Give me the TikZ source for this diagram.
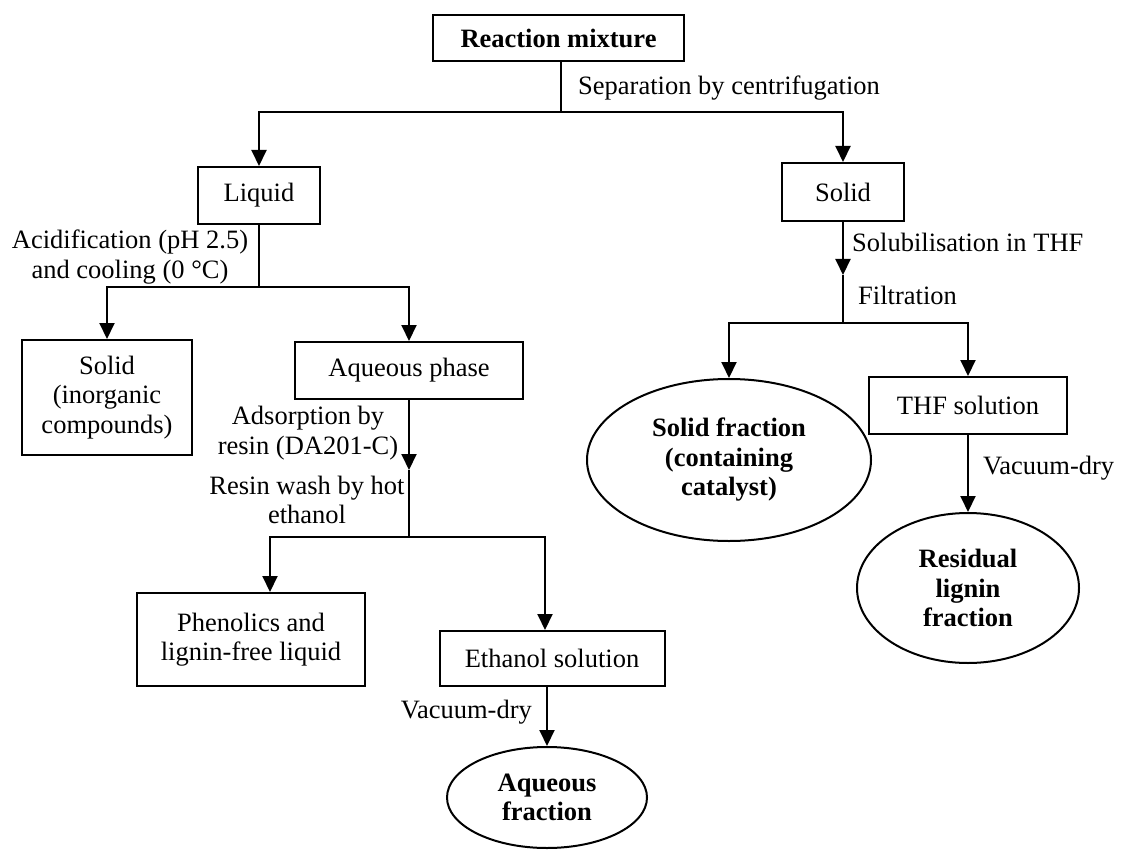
\documentclass[tikz,border=0pt]{standalone}
\usepackage{fontspec}
\setmainfont{Liberation Serif}
\usetikzlibrary{shapes.geometric,arrows.meta}
\begin{document}
\begin{tikzpicture}[x=1pt,y=-1pt,
  every node/.style={font=\fontsize{26.5}{29.5}\selectfont, inner sep=0pt, align=center},
  boxnode/.style={draw, line width=2pt, rectangle},
  ellnode/.style={draw, line width=2pt, ellipse},
  conn/.style={line width=2pt},
  arr/.style={line width=2pt, -{Triangle[width=15pt,length=16pt]}},
  lbl/.style={}
]
\useasboundingbox (0,0) rectangle (1121,850);

% boxes
\node[boxnode, minimum width=251pt, minimum height=46pt] (rm) at (558.5,38) {\textbf{Reaction mixture}};
\node[boxnode, minimum width=122pt, minimum height=57pt] (liquid) at (259,195.5) {Liquid};
\node[boxnode, minimum width=122pt, minimum height=58pt] (solidR) at (843,192) {Solid};
\node[boxnode, minimum width=170pt, minimum height=115pt] (solidI) at (107,397.5) {Solid\\(inorganic\\compounds)};
\node[boxnode, minimum width=228pt, minimum height=57pt] (aq) at (409,370.5) {Aqueous phase};
\node[boxnode, minimum width=228pt, minimum height=93pt] (phen) at (251,639.5) {Phenolics and\\lignin-free liquid};
\node[boxnode, minimum width=225pt, minimum height=55pt] (eth) at (552,658.5) {Ethanol solution};
\node[boxnode, minimum width=198pt, minimum height=57pt] (thf) at (968,405.5) {THF solution};

% ellipses
\node[ellnode, minimum width=284pt, minimum height=162pt] (sf) at (729,460) {\textbf{Solid fraction}\\\textbf{(containing}\\\textbf{catalyst)}};
\node[ellnode, minimum width=222pt, minimum height=150pt] (rl) at (968,588) {\textbf{Residual}\\\textbf{lignin}\\\textbf{fraction}};
\node[ellnode, minimum width=200pt, minimum height=101pt] (af) at (547,797.5) {\textbf{Aqueous}\\\textbf{fraction}};

% junction coordinates
\coordinate (j1) at (561,112);
\coordinate (j2) at (259,287);
\coordinate (a1) at (409,470);
\coordinate (j3) at (409,537);
\coordinate (p1) at (270,0);
\coordinate (e1) at (545,0);
\coordinate (s1) at (843,275);
\coordinate (j4) at (843,323);

% connectors
\draw[conn] (rm.south -| j1) -- (j1);
\draw[arr] (j1) -| (liquid.north);
\draw[arr] (j1) -| (solidR.north);

\draw[conn] (liquid.south) -- (j2);
\draw[arr] (j2) -| (solidI.north);
\draw[arr] (j2) -| (aq.north);

\draw[arr] (aq.south) -- (a1);
\draw[conn] (a1) -- (j3);
\draw[arr] (j3) -| (phen.north -| p1);
\draw[arr] (j3) -| (eth.north -| e1);
\draw[arr] (eth.south -| af.north) -- (af.north);

\draw[arr] (solidR.south) -- (s1);
\draw[conn] (s1) -- (j4);
\draw[arr] (j4) -| (sf.north);
\draw[arr] (j4) -| (thf.north);
\draw[arr] (thf.south) -- (rl.north);

% labels
\node[lbl, anchor=west] (lsep) at (578,88) {Separation by centrifugation};
\node[lbl] (lacid) at (130,257) {Acidification (pH 2.5)\\and cooling (0 °C)};
\node[lbl] (lads) at (308,433) {Adsorption by\\resin (DA201-C)};
\node[lbl] (lwash) at (307,500) {Resin wash by hot\\ethanol};
\node[lbl, anchor=west] (lsol) at (852,242) {Solubilisation in THF};
\node[lbl, anchor=west] (lfil) at (858,295) {Filtration};
\node[lbl, anchor=west] (lvac1) at (983,468) {Vacuum-dry};
\node[lbl, anchor=east] (lvac2) at (532,712) {Vacuum-dry};
\end{tikzpicture}
\end{document}
